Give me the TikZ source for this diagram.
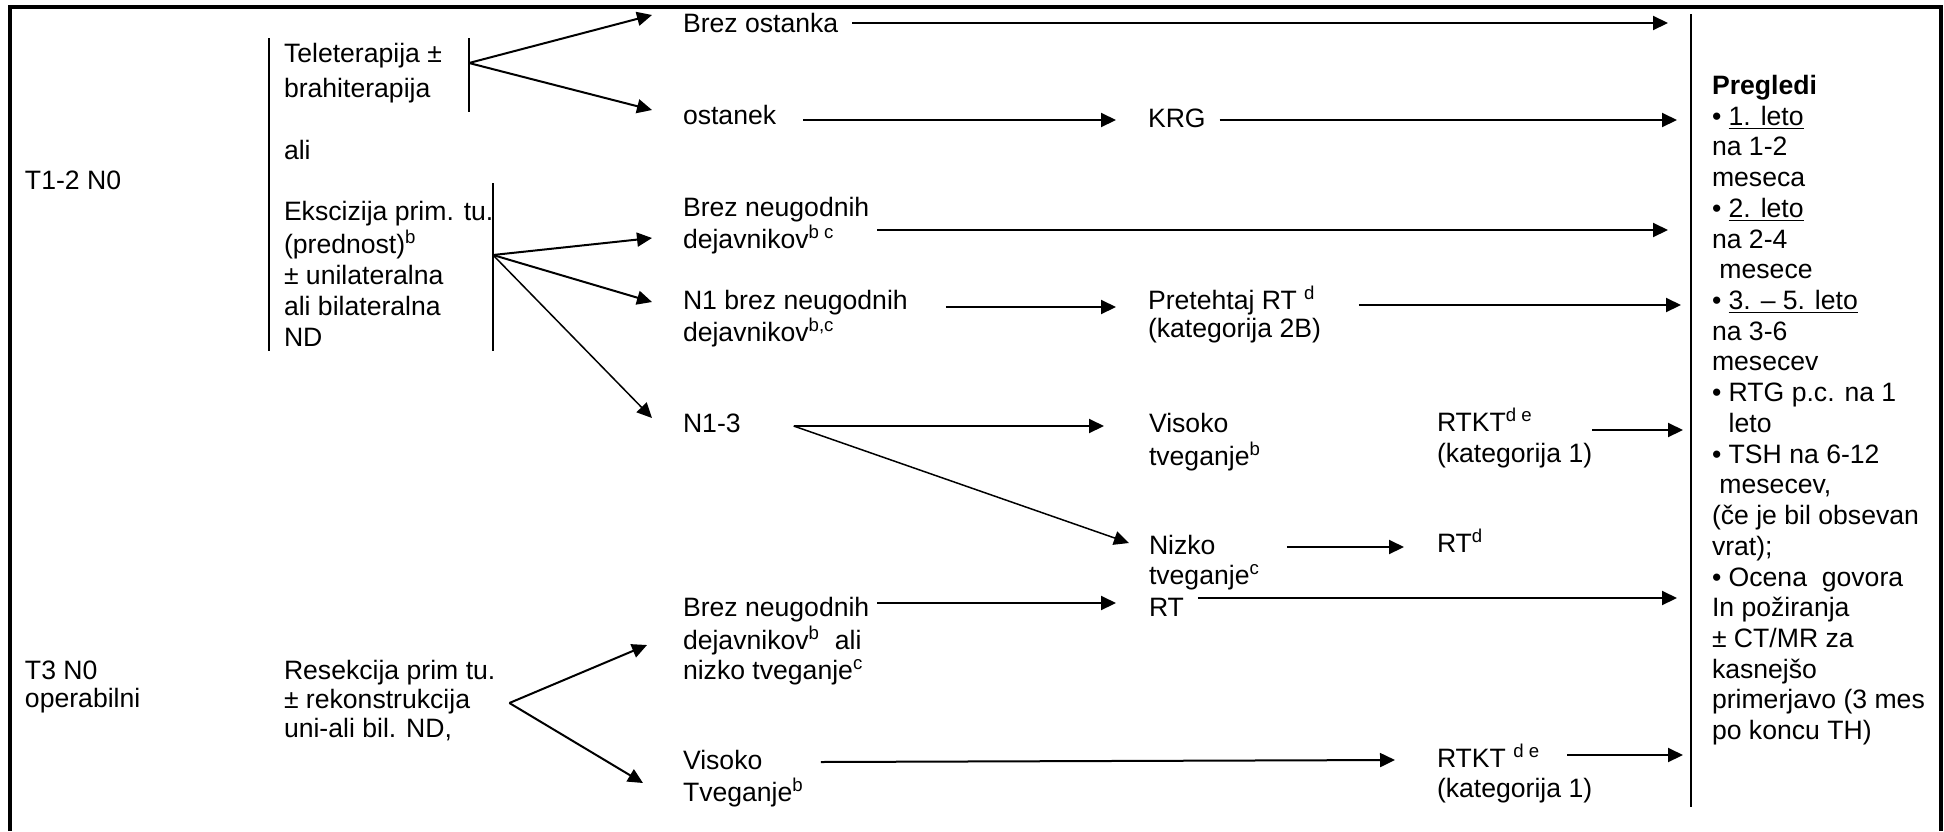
\documentclass[tikz,border=0pt]{standalone}
\usepackage{fontspec}
\setmainfont{Liberation Sans}
\usetikzlibrary{arrows.meta,calc}

% left-aligned stack of lines whose baseline is that of the first line
\newcommand{\ml}[2][1]{{\renewcommand{\arraystretch}{#1}\begin{tabular}[t]{@{}l@{}}#2\end{tabular}}}

\begin{document}
\begin{tikzpicture}[x=0.5pt,y=-0.5pt,
  txt/.style={anchor=base west,inner sep=0pt,outer sep=0pt,font=\fontsize{13.3pt}{15pt}\selectfont},
  arr/.style={line width=1pt,-{Triangle[length=7.5pt,width=7pt]}},
  thinarr/.style={arr,line width=0.75pt},
  bar/.style={line width=1pt},
  frame/.style={line width=2pt}]
\useasboundingbox (0,0) rectangle (1944,831);

% outer frame (open at the bottom)
\draw[frame] (10,831) -- (10,7) -- (1941,7) -- (1941,831);

% stage labels
\node[txt] (t12) at (25,189.5) {T1-2 N0};
\node[txt] (t3)  at (25,679.5) {\ml[0.933]{T3 N0\\operabilni}};

% primary treatment
\node[txt] (tele) at (284,62.5) {\ml{Teleterapija ±\\[2.5pt]brahiterapija}};
\node[txt] (ali)  at (284,159.5) {ali};
\node[txt] (eks)  at (284,220.5) {\ml[1.033]{Ekscizija prim. tu.\\(prednost)\textsuperscript{b}\\± unilateralna\\ali bilateralna\\ND}};
\node[txt] (res)  at (284,679.5) {\ml[0.97]{Resekcija prim tu.\\± rekonstrukcija\\uni-ali bil. ND,}};

% findings after treatment
\node[txt] (bo)  at (683,32.5)  {Brez ostanka};
\node[txt] (ost) at (683,124.5) {ostanek};
\node[txt] (bn1) at (683,216.5) {\ml[0.933]{Brez neugodnih\\dejavnikov\textsuperscript{b c}}};
\node[txt] (n1b) at (683,309.5) {\ml[0.933]{N1 brez neugodnih\\dejavnikov\textsuperscript{b,c}}};
\node[txt] (n13) at (683,432.5) {N1-3};
\node[txt] (bn2) at (683,616.5) {\ml{Brez neugodnih\\dejavnikov\textsuperscript{b}\ \ ali\\nizko tveganje\textsuperscript{c}}};
\node[txt] (vis2) at (683,769.5) {\ml[0.933]{Visoko\\Tveganje\textsuperscript{b}}};

% adjuvant steps
\node[txt] (krg)  at (1148,127.5) {KRG};
\node[txt] (pre)  at (1148,309.5) {\ml[0.933]{Pretehtaj RT \textsuperscript{d}\\(kategorija 2B)}};
\node[txt] (vis1) at (1149,432.5) {\ml{Visoko\\tveganje\textsuperscript{b}}};
\node[txt] (niz)  at (1149,554.5) {\ml{Nizko\\tveganje\textsuperscript{c}}};
\node[txt] (rt)   at (1149,616.5) {RT};
\node[txt] (rtkt1) at (1437,431.5) {\ml[1.033]{RTKT\textsuperscript{d e}\\(kategorija 1)}};
\node[txt] (rtd)   at (1437,552.5) {RT\textsuperscript{d}};
\node[txt] (rtkt2) at (1437,767.5) {\ml{RTKT \textsuperscript{d e}\\(kategorija 1)}};

% follow-up column
\node[txt] (preg) at (1712,94.5) {\ml[1.024]{\textbf{Pregledi}\\%
• \underline{1. leto}\\na 1-2\\meseca\\%
• \underline{2. leto}\\na 2-4\\\hspace*{0.28em}mesece\\%
• \underline{3. – 5. leto}\\na 3-6\\mesecev\\%
• RTG p.c. na 1\\\hphantom{• }leto\\%
• TSH na 6-12\\\hspace*{0.28em}mesecev,\\(če je bil obsevan\\vrat);\\%
• Ocena\ \ govora\\In požiranja\\± CT/MR za\\kasnejšo\\primerjavo (3 mes\\po koncu TH)}};

% bracket bars
\draw[bar] (269,38) -- (269,351);
\draw[bar] (469,38) -- (469,112);
\draw[bar] (493,183) -- (493,351);
\coordinate (v4t) at (1691,14);
\coordinate (v4b) at (1691,807);
\draw[bar] (v4t) -- (v4b);

% fork points
\coordinate (f1) at (469,63);
\coordinate (f2) at (493,255);
\coordinate (f3) at ($(res.base east)+(14,23.5)$);
\coordinate (f4) at ($(n13.base east)+(53,-6.5)$);

% branches
\draw[arr] (f1) -- ($(bo.base west)+(-31,-17.5)$);
\draw[arr] (f1) -- ($(ost.base west)+(-31,-14.5)$);
\draw[arr] (f2) -- ($(bn1.base west)+(-31,21.5)$);
\draw[arr] (f2) -- ($(n1b.base west)+(-31,-7.5)$);
\draw[thinarr] (f2) -- ($(n13.base west)+(-31,-14.5)$);
\draw[arr] (f3) -- ($(bn2.base west)+(-36,28.5)$);
\draw[arr] (f3) -- ($(vis2.base west)+(-40,13.5)$);

% horizontal steps
\draw[arr] ($(ost.base east)+(27,-4.5)$) -- ($(krg.base west)+(-32,-7.5)$);
\draw[arr] ($(n1b.base east)+(38,-2.5)$) -- ($(pre.base west)+(-32,-2.5)$);
\draw[arr] (f4) -- ($(vis1.base west)+(-45,-6.5)$);
\draw[thinarr] (f4) -- ($(niz.base west)+(-20,-11.5)$);
\draw[arr] ($(niz.base east)+(27,-7.5)$) -- ($(rtd.base west)+(-33,-5.5)$);
\draw[arr] ($(bn2.base east)+(8,-13.5)$) -- ($(rt.base west)+(-33,-13.5)$);
\draw[arr] ($(vis2.base east)+(17,-7.5)$) -- ($(rtkt2.base west)+(-42,-7.5)$);

% into follow-up
\draw[arr] ($(bo.base east)+(14,-9.5)$) -- ($(v4t |- bo.base east)+(-23,-9.5)$);
\draw[arr] ($(krg.base east)+(14,-7.5)$) -- ($(v4t |- krg.base east)+(-14,-7.5)$);
\draw[arr] ($(bn1.base east)+(8,13.5)$) -- ($(v4t |- bn1.base east)+(-23,13.5)$);
\draw[arr] ($(pre.base east)+(38,-4.5)$) -- ($(v4t |- pre.base east)+(-10,-4.5)$);
\draw[arr] ($(rtkt1.base east)+(0,-1.5)$) -- ($(v4t |- rtkt1.base east)+(-8,-1.5)$);
\draw[arr] ($(rt.base east)+(14,-18.5)$) -- ($(v4t |- rt.base east)+(-14,-18.5)$);
\draw[arr] ($(rtkt2.base east)+(-25,-12.5)$) -- ($(v4t |- rtkt2.base east)+(-8,-12.5)$);
\end{tikzpicture}
\end{document}
